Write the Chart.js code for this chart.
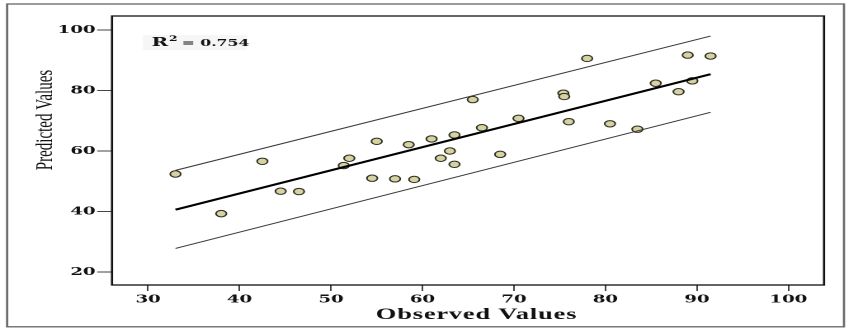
<!DOCTYPE html>
<html>
<head>
<meta charset="utf-8">
<script src="https://cdn.jsdelivr.net/npm/chart.js@4/dist/chart.umd.min.js"></script>
<style>
  html, body { margin: 0; padding: 0; background: #fff; overflow: hidden; }
  /* the figure is laid out narrow and widened horizontally */
  #wrap { position: absolute; left: 0; top: 0; width: 514px; height: 329px;
          transform: scaleX(1.65); transform-origin: 0 0; }
</style>
</head>
<body>
<div id="wrap"><canvas id="c"></canvas></div>
<script>
// Observed vs predicted values
const observed  = [33.0, 38.0, 42.5, 44.5, 46.5, 51.4, 52.0, 54.5, 55.0, 57.0, 58.5, 59.1, 61.0, 62.0, 63.0, 63.5,
                   63.5, 65.5, 66.5, 68.5, 70.5, 75.4, 75.5, 76.0, 78.0, 80.5, 83.5, 85.5, 88.0, 89.0, 89.5, 91.5];
const predicted = [52.4, 39.3, 56.6, 46.7, 46.6, 55.2, 57.6, 51.0, 63.2, 50.8, 62.1, 50.6, 64.0, 57.6, 60.0, 55.6,
                   65.3, 77.0, 67.7, 58.9, 70.8, 79.1, 78.0, 69.7, 90.6, 69.0, 67.2, 82.4, 79.6, 91.7, 83.2, 91.4];

// Fitted line and upper / lower prediction bounds at the ends of the observed range
const fitX   = [33.0, 91.5];
const fitY   = [40.6, 85.4];
const upperY = [53.6, 98.0];
const lowerY = [27.8, 72.8];

const xTicks = [30, 40, 50, 60, 70, 80, 90, 100];
const yTicks = [20, 40, 60, 80, 100];
const rSquared = '0.754';
const xTitle = 'Observed Values';
const yTitle = 'Predicted Values';

const points = observed.map((x, i) => ({ x, y: predicted[i] }));
const segment = ys => fitX.map((x, i) => ({ x, y: ys[i] }));

const tickFont = { family: 'DejaVu Serif', weight: 'bold', size: 11 };

const decorations = {
  id: 'decorations',
  beforeDraw(chart) {
    const c = chart.ctx;
    c.save();
    c.fillStyle = '#fff';
    c.fillRect(0, 0, chart.width, chart.height);
    // outer frame
    c.strokeStyle = '#666';
    c.lineWidth = 1.3;
    c.strokeRect(4.3, 4, 507.2, 322.8);
    // faint box behind the R² note
    c.fillStyle = '#f6f6f6';
    c.fillRect(86.7, 35, 63, 15);
    c.restore();
  },
  afterDraw(chart) {
    const c = chart.ctx;
    const a = chart.chartArea;
    c.save();
    // plot box
    c.strokeStyle = '#111';
    c.lineWidth = 1.3;
    c.strokeRect(a.left, a.top, a.right - a.left, a.bottom - a.top);

    c.fillStyle = '#111';
    // R² note
    c.textBaseline = 'alphabetic';
    c.textAlign = 'left';
    c.font = 'bold 12px "DejaVu Serif"';
    c.fillText('R', 91.9, 46);
    const rw = c.measureText('R').width;
    c.font = 'bold 7.5px "DejaVu Serif"';
    c.fillText('2', 91.9 + rw + 0.5, 41);
    c.font = 'bold 9.5px "DejaVu Serif"';
    c.fillText('= ' + rSquared, 110.1, 46);

    // x axis title
    c.font = 'bold 16px "Liberation Serif"';
    c.letterSpacing = '0.5px';
    c.textAlign = 'center';
    c.fillText(xTitle, 288.8, 319);
    c.letterSpacing = '0px';

    // y axis title
    c.translate(31.5, 120);
    c.rotate(-Math.PI / 2);
    c.font = '15px "Liberation Serif"';
    c.fillText(yTitle, 0, 0);
    c.restore();
  }
};

new Chart(document.getElementById('c'), {
  type: 'scatter',
  data: {
    datasets: [
      { data: segment(fitY), showLine: true, borderColor: '#000', borderWidth: 2, pointRadius: 0, order: 0 },
      { data: segment(upperY), showLine: true, borderColor: '#3a3a3a', borderWidth: 1, pointRadius: 0, order: 0 },
      { data: segment(lowerY), showLine: true, borderColor: '#3a3a3a', borderWidth: 1, pointRadius: 0, order: 0 },
      { data: points, pointRadius: 3.2, pointBackgroundColor: '#d6d2a2', pointBorderColor: '#2e2e22',
        pointBorderWidth: 1, order: 1 }
    ]
  },
  options: {
    responsive: true,
    maintainAspectRatio: false,
    animation: false,
    devicePixelRatio: 2,
    layout: { padding: { left: 0, right: 14.6, top: 16, bottom: 0 } },
    plugins: { legend: { display: false }, tooltip: { enabled: false } },
    scales: {
      x: {
        type: 'linear', min: 26.06, max: 103.9,
        afterBuildTicks: s => { s.ticks = xTicks.map(v => ({ value: v })); },
        afterFit: s => { s.height = 44; },
        grid: { drawOnChartArea: false, drawTicks: true, tickLength: 6, tickColor: '#444', tickWidth: 1 },
        border: { display: false },
        ticks: { font: tickFont, color: '#111', padding: 2, maxRotation: 0, autoSkip: false }
      },
      y: {
        type: 'linear', min: 15.7, max: 104.63,
        afterBuildTicks: s => { s.ticks = yTicks.map(v => ({ value: v })); },
        afterFit: s => { s.width = 67.88; },
        grid: { drawOnChartArea: false, drawTicks: true, tickLength: 9, tickColor: '#444', tickWidth: 1 },
        border: { display: false },
        ticks: { font: tickFont, color: '#111', padding: 1, autoSkip: false }
      }
    }
  },
  plugins: [decorations]
});
</script>
</body>
</html>
